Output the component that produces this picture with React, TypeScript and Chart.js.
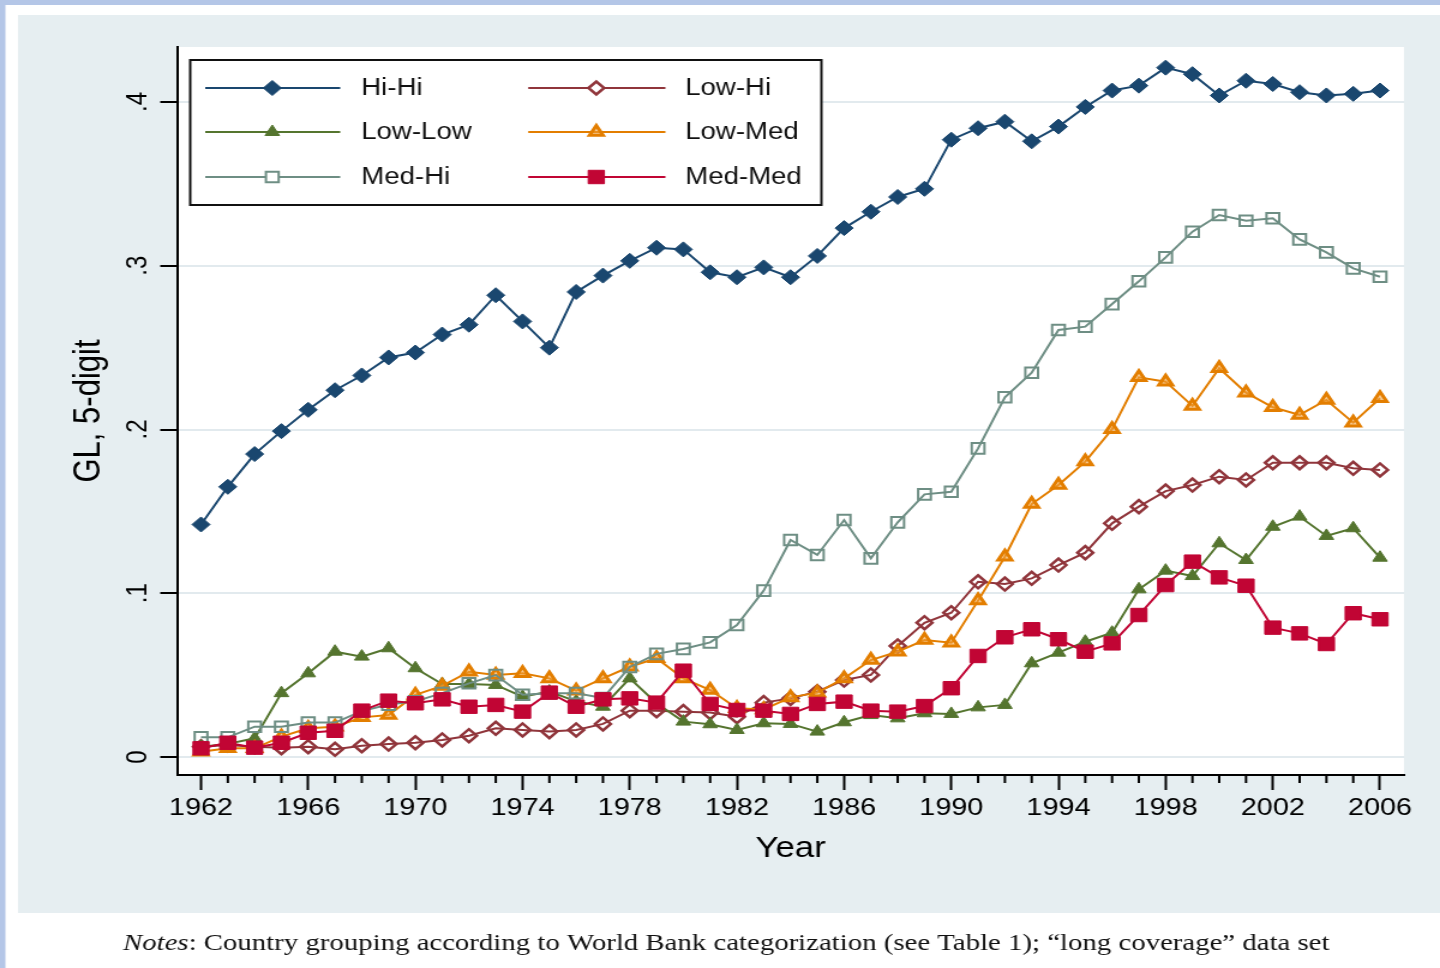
import React, { useEffect, useRef } from 'react';
import { Chart, registerables } from 'chart.js';
import { drawPoint } from 'chart.js/helpers';

Chart.register(...registerables);

// ---- data -------------------------------------------------------------
const YEARS = [
  1962, 1963, 1964, 1965, 1966, 1967, 1968, 1969, 1970, 1971,
  1972, 1973, 1974, 1975, 1976, 1977, 1978, 1979, 1980, 1981,
  1982, 1983, 1984, 1985, 1986, 1987, 1988, 1989, 1990, 1991,
  1992, 1993, 1994, 1995, 1996, 1997, 1998, 1999, 2000, 2001,
  2002, 2003, 2004, 2005, 2006,
];
const LABELED_YEARS = [1962, 1966, 1970, 1974, 1978, 1982, 1986, 1990, 1994, 1998, 2002, 2006];
const Y_TICKS = [0, 0.1, 0.2, 0.3, 0.4];
const Y_TICK_LABELS = ['0', '.1', '.2', '.3', '.4'];

const HI_HI = [
  0.142, 0.165, 0.185, 0.199, 0.212, 0.224, 0.233, 0.244, 0.247, 0.258,
  0.264, 0.282, 0.266, 0.250, 0.284, 0.294, 0.303, 0.311, 0.310, 0.296,
  0.293, 0.299, 0.293, 0.306, 0.323, 0.333, 0.342, 0.347, 0.377, 0.384,
  0.388, 0.376, 0.385, 0.397, 0.407, 0.410, 0.421, 0.417, 0.404, 0.413,
  0.411, 0.406, 0.404, 0.405, 0.407,
];
const LOW_HI = [
  0.0063, 0.0073, 0.0063, 0.0057, 0.0063, 0.0047, 0.0069, 0.0079, 0.0087, 0.0104,
  0.0130, 0.0175, 0.0165, 0.0155, 0.0165, 0.0202, 0.0283, 0.0283, 0.0277, 0.0271,
  0.0246, 0.0332, 0.0358, 0.0399, 0.0470, 0.0501, 0.0678, 0.0820, 0.0881, 0.1070,
  0.1056, 0.1091, 0.1172, 0.1248, 0.1427, 0.1529, 0.1624, 0.1661, 0.1712, 0.1692,
  0.1797, 0.1797, 0.1797, 0.1763, 0.1753,
];
const LOW_LOW = [
  0.0063, 0.0080, 0.0114, 0.0390, 0.0511, 0.0643, 0.0613, 0.0664, 0.0542, 0.0446,
  0.0446, 0.0440, 0.0368, 0.0400, 0.0340, 0.0307, 0.0480, 0.0328, 0.0216, 0.0200,
  0.0165, 0.0206, 0.0202, 0.0155, 0.0212, 0.0256, 0.0236, 0.0267, 0.0263, 0.0303,
  0.0318, 0.0572, 0.0637, 0.0704, 0.0759, 0.1024, 0.1138, 0.1105, 0.1305, 0.1203,
  0.1406, 0.1468, 0.1350, 0.1397, 0.1217,
];
const LOW_MED = [
  0.0032, 0.0053, 0.0053, 0.0124, 0.0175, 0.0185, 0.0242, 0.0256, 0.0379, 0.0434,
  0.0521, 0.0501, 0.0511, 0.0480, 0.0405, 0.0480, 0.0551, 0.0603, 0.0480, 0.0409,
  0.0297, 0.0290, 0.0364, 0.0393, 0.0480, 0.0592, 0.0643, 0.0714, 0.0698, 0.0955,
  0.1223, 0.1545, 0.1661, 0.1804, 0.2001, 0.2319, 0.2292, 0.2144, 0.2374, 0.2225,
  0.2136, 0.2089, 0.2180, 0.2042, 0.2191,
];
const MED_HI = [
  0.0120, 0.0120, 0.0185, 0.0185, 0.0210, 0.0210, 0.0280, 0.0320, 0.0340, 0.0390,
  0.0450, 0.0500, 0.0380, 0.0390, 0.0390, 0.0360, 0.0550, 0.0630, 0.0660, 0.0700,
  0.0806, 0.1016, 0.1325, 0.1234, 0.1447, 0.1213, 0.1433, 0.1604, 0.1620, 0.1885,
  0.2197, 0.2347, 0.2608, 0.2628, 0.2766, 0.2905, 0.3051, 0.3208, 0.3310, 0.3275,
  0.3290, 0.3161, 0.3082, 0.2984, 0.2933,
];
const MED_MED = [
  0.0053, 0.0087, 0.0057, 0.0087, 0.0148, 0.0160, 0.0283, 0.0344, 0.0328, 0.0352,
  0.0307, 0.0318, 0.0277, 0.0393, 0.0307, 0.0352, 0.0358, 0.0332, 0.0527, 0.0324,
  0.0287, 0.0283, 0.0263, 0.0324, 0.0338, 0.0283, 0.0277, 0.0311, 0.0420, 0.0617,
  0.0731, 0.0780, 0.0719, 0.0643, 0.0694, 0.0867, 0.1050, 0.1193, 0.1097, 0.1046,
  0.0790, 0.0755, 0.0690, 0.0878, 0.0841,
];

const X_TITLE = 'Year';
const Y_TITLE = 'GL, 5-digit';
const NOTE_LEAD = 'Notes';
const NOTE_BODY = ': Country grouping according to World Bank categorization (see Table 1); \u201Clong coverage\u201D data set';

// ---- styling ----------------------------------------------------------
const W = 1200;
const H = 968;
const STRETCH = 1.2; // the graph is rendered narrow and widened horizontally
const SANS = '"Liberation Sans", Arial, Helvetica, sans-serif';
const SERIF = '"Liberation Serif", "Times New Roman", serif';
const PANEL = '#e6eef1';
const GRID = '#e2eaee';
const BAND = '#b4c6e7';

type SeriesStyle = {
  label: string;
  values: number[];
  color: string;
  pointStyle: 'rectRot' | 'triangle' | 'rect';
  radius: number;
  fill: string | null;
  pointBorder: number;
  order: number;
};

const SERIES: SeriesStyle[] = [
  { label: 'Hi-Hi', values: HI_HI, color: '#1a476f', pointStyle: 'rectRot', radius: 7.5, fill: '#1a476f', pointBorder: 1, order: 5 },
  { label: 'Low-Hi', values: LOW_HI, color: '#90353b', pointStyle: 'rectRot', radius: 6.5, fill: null, pointBorder: 2.5, order: 4 },
  { label: 'Low-Low', values: LOW_LOW, color: '#55752f', pointStyle: 'triangle', radius: 7, fill: '#55752f', pointBorder: 1, order: 3 },
  { label: 'Low-Med', values: LOW_MED, color: '#e37e00', pointStyle: 'triangle', radius: 6.5, fill: 'rgba(240,160,60,0.55)', pointBorder: 3, order: 2 },
  { label: 'Med-Hi', values: MED_HI, color: '#6e8e84', pointStyle: 'rect', radius: 7.5, fill: null, pointBorder: 2, order: 1 },
  { label: 'Med-Med', values: MED_MED, color: '#c10534', pointStyle: 'rect', radius: 9.5, fill: '#c10534', pointBorder: 1, order: 0 },
];

// Frame, legend, rotated y labels, minor x ticks and the footnote
const decorPlugin = {
  id: 'decor',
  beforeDraw(chart: Chart) {
    const { ctx, chartArea } = chart;
    ctx.save();
    ctx.fillStyle = '#ffffff';
    ctx.fillRect(0, 0, W, H);
    ctx.fillStyle = BAND;
    ctx.fillRect(0, 0, W, 5);
    ctx.fillRect(0, 0, 4.5, H);
    ctx.fillStyle = PANEL;
    ctx.fillRect(15, 15, W - 15, 898);
    ctx.fillStyle = '#ffffff';
    ctx.fillRect(chartArea.left, chartArea.top, chartArea.right - chartArea.left, chartArea.bottom - chartArea.top);
    ctx.restore();
  },
  afterDraw(chart: Chart) {
    const { ctx, chartArea } = chart;
    const xs = chart.scales.x;
    const ys = chart.scales.y;
    ctx.save();

    // minor ticks on the year axis
    ctx.strokeStyle = '#000';
    ctx.lineWidth = 2;
    YEARS.filter((yr) => !LABELED_YEARS.includes(yr)).forEach((yr) => {
      const px = xs.getPixelForValue(yr);
      ctx.beginPath();
      ctx.moveTo(px, chartArea.bottom);
      ctx.lineTo(px, chartArea.bottom + 8);
      ctx.stroke();
    });

    // rotated y tick labels
    ctx.fillStyle = '#000';
    ctx.font = `24px ${SANS}`;
    ctx.textAlign = 'center';
    ctx.textBaseline = 'alphabetic';
    Y_TICKS.forEach((v, i) => {
      const py = ys.getPixelForValue(v);
      ctx.save();
      ctx.translate(chartArea.left - 25.5, py);
      ctx.rotate(-Math.PI / 2);
      ctx.fillText(Y_TICK_LABELS[i], 0, 0);
      ctx.restore();
    });

    // legend box
    const bx = chartArea.left + 11;
    const by = chartArea.top + 13;
    const bw = 526;
    const bh = 145;
    ctx.fillStyle = '#fff';
    ctx.fillRect(bx, by, bw, bh);
    ctx.strokeStyle = '#111';
    ctx.lineWidth = 2;
    ctx.strokeRect(bx, by, bw, bh);
    const rowY = [28, 72, 117];
    const cols = [
      { x1: 12.5, x2: 125, mx: 68.4, tx: 142.5 },
      { x1: 281.7, x2: 396, mx: 338.4, tx: 412.5 },
    ];
    ctx.font = `23px ${SANS}`;
    ctx.textAlign = 'left';
    ctx.textBaseline = 'middle';
    SERIES.forEach((s, i) => {
      const c = cols[i % 2];
      const y = by + rowY[Math.floor(i / 2)];
      ctx.strokeStyle = s.color;
      ctx.lineWidth = 2;
      ctx.beginPath();
      ctx.moveTo(bx + c.x1, y);
      ctx.lineTo(bx + c.x2, y);
      ctx.stroke();
      ctx.fillStyle = s.fill ?? '#ffffff';
      ctx.lineWidth = s.pointBorder;
      drawPoint(ctx, { pointStyle: s.pointStyle, rotation: 0, radius: s.radius, borderWidth: s.pointBorder }, bx + c.mx, y);
      ctx.fillStyle = '#111';
      ctx.fillText(s.label, bx + c.tx, y + 1);
    });

    // footnote
    ctx.fillStyle = '#111';
    ctx.textBaseline = 'alphabetic';
    ctx.textAlign = 'left';
    ctx.font = `italic 24px ${SERIF}`;
    const nx = 102.5;
    ctx.fillText(NOTE_LEAD, nx, 950);
    const lw = ctx.measureText(NOTE_LEAD).width;
    ctx.font = `24px ${SERIF}`;
    ctx.fillText(NOTE_BODY, nx + lw, 950);

    ctx.restore();
  },
};

export default function App() {
  const ref = useRef<HTMLCanvasElement | null>(null);

  useEffect(() => {
    if (!ref.current) return;
    Chart.defaults.font.family = SANS;
    Chart.defaults.color = '#000';

    const datasets = SERIES.map((s) => ({
      label: s.label,
      data: YEARS.map((yr, i) => ({ x: yr, y: s.values[i] })),
      borderColor: s.color,
      backgroundColor: s.color,
      borderWidth: 2,
      tension: 0,
      pointStyle: s.pointStyle,
      pointRadius: s.radius,
      pointHoverRadius: s.radius,
      pointBackgroundColor: s.fill ?? 'rgba(0,0,0,0)',
      pointBorderColor: s.color,
      pointBorderWidth: s.pointBorder,
      order: s.order,
    }));

    const chart = new Chart(ref.current, {
      type: 'line',
      data: { datasets },
      options: {
        responsive: false,
        animation: false,
        devicePixelRatio: 1,
        events: [],
        layout: { padding: { left: 40, right: 30, top: 47, bottom: 102 } },
        plugins: { legend: { display: false }, tooltip: { enabled: false } },
        scales: {
          x: {
            type: 'linear',
            min: 1961.104,
            max: 2006.896,
            afterBuildTicks: (s: any) => {
              s.ticks = LABELED_YEARS.map((v) => ({ value: v }));
            },
            afterFit: (s: any) => {
              s.height = 91;
            },
            ticks: {
              autoSkip: false,
              maxRotation: 0,
              minRotation: 0,
              padding: 4,
              color: '#000',
              font: { family: SANS, size: 24 },
              callback: (v: any) => String(v),
            },
            grid: { drawOnChartArea: false, tickLength: 15, tickWidth: 2, tickColor: '#000' },
            border: { display: true, color: '#000', width: 2 },
            title: {
              display: true,
              text: X_TITLE,
              color: '#000',
              font: { family: SANS, size: 29 },
              padding: { top: 0, bottom: 0 },
            },
          },
          y: {
            type: 'linear',
            min: -0.011,
            max: 0.4336,
            afterBuildTicks: (s: any) => {
              s.ticks = Y_TICKS.map((v) => ({ value: v }));
            },
            afterFit: (s: any) => {
              s.width = 107.5;
            },
            ticks: { display: false },
            grid: { color: GRID, lineWidth: 2, tickLength: 14, tickWidth: 2, tickColor: '#000' },
            border: { display: true, color: '#000', width: 2 },
            title: {
              display: true,
              text: Y_TITLE,
              color: '#000',
              font: { family: SANS, size: 31 },
              padding: { top: 15.8, bottom: 0 },
            },
          },
        },
      },
      plugins: [decorPlugin],
    });

    return () => chart.destroy();
  }, []);

  return (
    <div
      style={{
        position: 'absolute',
        left: 0,
        top: 0,
        width: W,
        height: H,
        transform: `scaleX(${STRETCH})`,
        transformOrigin: '0 0',
      }}
    >
      <canvas ref={ref} width={W} height={H} style={{ display: 'block', width: W, height: H }} />
    </div>
  );
}
